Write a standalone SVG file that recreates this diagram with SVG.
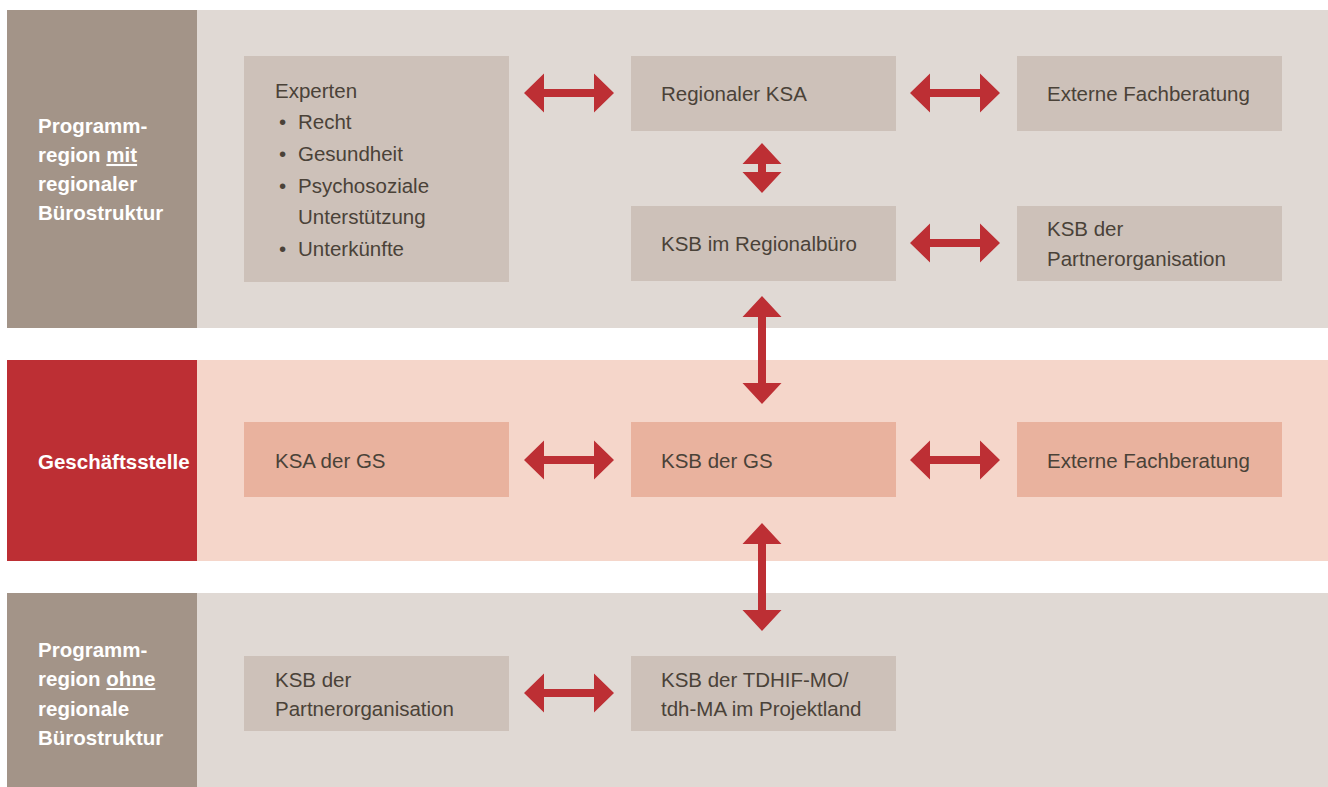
<svg xmlns="http://www.w3.org/2000/svg" width="1328" height="787" viewBox="0 0 1328 787">
<style>
.bandL{fill:#a39488}
.bandR{fill:#e0d9d4}
.gsL{fill:#bd2f34}
.gsR{fill:#f5d6ca}
.node{fill:#cdc1b9}
.gnode{fill:#e9b29e}
.t{font-family:"Liberation Sans",Arial,sans-serif;font-size:20.5px;fill:#4a4238}
.lab{font-family:"Liberation Sans",Arial,sans-serif;font-size:20.5px;font-weight:bold;fill:#ffffff}
.arr{fill:#bd2f34}
</style>
<defs>
<path id="h" d="M0,0 L20,-19.5 L20,-4 L70,-4 L70,-19.5 L90,0 L70,19.5 L70,4 L20,4 L20,19.5 Z"/>
</defs>
<rect width="1328" height="787" fill="#ffffff"/>
<g id="band1">
<rect class="bandL" x="7" y="10" width="190" height="318"/>
<rect class="bandR" x="197" y="10" width="1131" height="318"/>
<text class="lab"><tspan x="38" y="133">Programm-</tspan><tspan x="38" y="162">region <tspan text-decoration="underline">mit</tspan></tspan><tspan x="38" y="191">regionaler</tspan><tspan x="38" y="220">Bürostruktur</tspan></text>
</g>
<g id="band2">
<rect class="gsL" x="7" y="360" width="190" height="201"/>
<rect class="gsR" x="197" y="360" width="1131" height="201"/>
<text class="lab" x="38" y="469">Geschäftsstelle</text>
</g>
<g id="band3">
<rect class="bandL" x="7" y="593" width="190" height="194"/>
<rect class="bandR" x="197" y="593" width="1131" height="194"/>
<text class="lab"><tspan x="38" y="657">Programm-</tspan><tspan x="38" y="686">region <tspan text-decoration="underline">ohne</tspan></tspan><tspan x="38" y="716">regionale</tspan><tspan x="38" y="745">Bürostruktur</tspan></text>
</g>
<g id="experten">
<rect class="node" x="244" y="56" width="265" height="226"/>
<text class="t"><tspan x="275" y="98">Experten</tspan><tspan x="279" y="129">•</tspan><tspan x="298" y="129">Recht</tspan><tspan x="279" y="161">•</tspan><tspan x="298" y="161">Gesundheit</tspan><tspan x="279" y="193">•</tspan><tspan x="298" y="193">Psychosoziale</tspan><tspan x="298" y="224">Unterstützung</tspan><tspan x="279" y="256">•</tspan><tspan x="298" y="256">Unterkünfte</tspan></text>
</g>
<g id="regionaler-ksa">
<rect class="node" x="631" y="56" width="265" height="75"/>
<text class="t" x="661" y="101">Regionaler KSA</text>
</g>
<g id="externe-1">
<rect class="node" x="1017" y="56" width="265" height="75"/>
<text class="t" x="1047" y="101">Externe Fachberatung</text>
</g>
<g id="ksb-regionalbuero">
<rect class="node" x="631" y="206" width="265" height="75"/>
<text class="t" x="661" y="251">KSB im Regionalbüro</text>
</g>
<g id="ksb-partner-1">
<rect class="node" x="1017" y="206" width="265" height="75"/>
<text class="t"><tspan x="1047" y="236">KSB der</tspan><tspan x="1047" y="266">Partnerorganisation</tspan></text>
</g>
<g id="ksa-gs">
<rect class="gnode" x="244" y="422" width="265" height="75"/>
<text class="t" x="275" y="468">KSA der GS</text>
</g>
<g id="ksb-gs">
<rect class="gnode" x="631" y="422" width="265" height="75"/>
<text class="t" x="661" y="468">KSB der GS</text>
</g>
<g id="externe-2">
<rect class="gnode" x="1017" y="422" width="265" height="75"/>
<text class="t" x="1047" y="468">Externe Fachberatung</text>
</g>
<g id="ksb-partner-2">
<rect class="node" x="244" y="656" width="265" height="75"/>
<text class="t"><tspan x="275" y="687">KSB der</tspan><tspan x="275" y="716">Partnerorganisation</tspan></text>
</g>
<g id="ksb-tdhif">
<rect class="node" x="631" y="656" width="265" height="75"/>
<text class="t"><tspan x="661" y="687">KSB der TDHIF-MO/</tspan><tspan x="661" y="716">tdh-MA im Projektland</tspan></text>
</g>
<g id="connectors" class="arr">
<use href="#h" x="524" y="93"/>
<use href="#h" x="910" y="93"/>
<use href="#h" x="910" y="243"/>
<use href="#h" x="524" y="460"/>
<use href="#h" x="910" y="460"/>
<use href="#h" x="524" y="693"/>
<path d="M762,143 L781.5,164 L766,164 L766,172 L781.5,172 L762,193 L742.5,172 L758,172 L758,164 L742.5,164 Z"/>
<path d="M762,296 L781.5,317 L766,317 L766,383 L781.5,383 L762,404 L742.5,383 L758,383 L758,317 L742.5,317 Z"/>
<path d="M762,523 L781.5,544 L766,544 L766,610 L781.5,610 L762,631 L742.5,610 L758,610 L758,544 L742.5,544 Z"/>
</g>
</svg>
